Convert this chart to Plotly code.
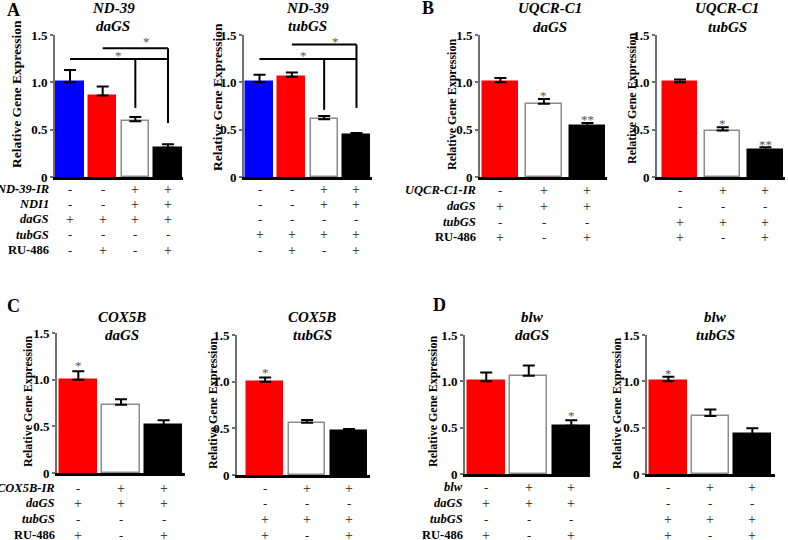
import plotly.graph_objects as go

W, H = 788, 540

# ---------------- data ----------------
A1_vals = [1.00, 0.86, 0.59, 0.31]
A1_sem = [0.13, 0.095, 0.045, 0.035]
A2_vals = [1.00, 1.06, 0.61, 0.44]
A2_sem = [0.08, 0.045, 0.035, 0.025]
B1_vals = [1.00, 0.775, 0.54]
B1_sem = [0.045, 0.05, 0.03]
B2_vals = [1.00, 0.49, 0.285]
B2_sem = [0.03, 0.035, 0.03]
C1_vals = [1.00, 0.73, 0.515]
C1_sem = [0.09, 0.06, 0.05]
C2_vals = [1.00, 0.56, 0.47]
C2_sem = [0.045, 0.03, 0.022]
D1_vals = [1.00, 1.06, 0.52]
D1_sem = [0.095, 0.11, 0.06]
D2_vals = [1.00, 0.625, 0.43]
D2_sem = [0.05, 0.07, 0.065]

y_tick_vals = [0, 0.5, 1.0, 1.5]
y_tick_text = ["0", "0.5", "1.0", "1.5"]

A_colors = ["#0000ff", "#ff0000", "#ffffff", "#000000"]
BCD_colors = ["#ff0000", "#ffffff", "#000000"]

A_rows = ["ND-39-IR", "NDI1", "daGS", "tubGS", "RU-486"]
A1_signs = [["-", "-", "+", "+"], ["-", "-", "+", "+"], ["+", "+", "+", "+"], ["-", "-", "-", "-"], ["-", "+", "-", "+"]]
A2_signs = [["-", "-", "+", "+"], ["-", "-", "+", "+"], ["-", "-", "-", "-"], ["+", "+", "+", "+"], ["-", "+", "-", "+"]]
B_rows = ["UQCR-C1-IR", "daGS", "tubGS", "RU-486"]
C_rows = ["COX5B-IR", "daGS", "tubGS", "RU-486"]
D_rows = ["blw", "daGS", "tubGS", "RU-486"]
da_signs = [["-", "+", "+"], ["+", "+", "+"], ["-", "-", "-"], ["+", "-", "+"]]
tub_signs = [["-", "+", "+"], ["-", "-", "-"], ["+", "+", "+"], ["+", "-", "+"]]

# significance marks: (bar index, y, text)
B1_stars = [(1, 0.89, "*"), (2, 0.64, "**")]
B2_stars = [(1, 0.60, "*"), (2, 0.38, "**")]
C1_stars = [(0, 1.18, "*")]
C2_stars = [(0, 1.13, "*")]
D1_stars = [(2, 0.66, "*")]
D2_stars = [(0, 1.12, "*")]
A1_stars = [(2.34, 1.46, "*"), (1.47, 1.32, "*")]
A2_stars = [(2.34, 1.46, "*"), (1.35, 1.31, "*")]
# brackets: horizontal (x0, x1, y) and vertical drops (x, ytop, ybottom)
A1_hlines = [(1, 3, 1.36), (0, 3, 1.246)]
A1_vlines = [(3, 1.36, 0.57), (2, 1.246, 0.73)]
A2_hlines = [(1, 3, 1.40), (0, 3, 1.246)]
A2_vlines = [(3, 1.40, 0.73), (2, 1.246, 0.71)]


def fx(px):
    return px / W


def fy(py):
    return 1 - py / H


FONT = "Liberation Serif"

panels = [
    dict(vals=A1_vals, sem=A1_sem, colors=A_colors, dom=(55, 183, 35, 177), xr=[-0.46, 3.46], bw=0.83,
         title=("ND-39", "daGS"), tx=113, ty=(8, 26), ylab=(17, 94, 13.5),
         signs=A1_signs, rows=A_rows, rowy=[189, 204, 219, 235, 250], labx=51,
         stars=A1_stars, hl=A1_hlines, vl=A1_vlines),
    dict(vals=A2_vals, sem=A2_sem, colors=A_colors, dom=(244, 372, 35, 177), xr=[-0.48, 3.48], bw=0.83,
         title=("ND-39", "tubGS"), tx=307, ty=(8, 26), ylab=(218, 97, 13.5),
         signs=A2_signs, rows=None, rowy=[189, 204, 219, 235, 250],
         stars=A2_stars, hl=A2_hlines, vl=A2_vlines),
    dict(vals=B1_vals, sem=B1_sem, colors=BCD_colors, dom=(480, 607, 35, 177), xr=[-0.47, 2.45], bw=0.81,
         title=("UQCR-C1", "daGS"), tx=550, ty=(8, 27), ylab=(452, 105, 12),
         signs=da_signs, rows=B_rows, rowy=[190, 206, 222, 237], labx=478,
         stars=B1_stars),
    dict(vals=B2_vals, sem=B2_sem, colors=BCD_colors, dom=(657, 785, 35, 177), xr=[-0.54, 2.46], bw=0.81,
         title=("UQCR-C1", "tubGS"), tx=727, ty=(8, 27), ylab=(632, 99, 12),
         signs=tub_signs, rows=None, rowy=[190, 206, 222, 237],
         stars=B2_stars),
    dict(vals=C1_vals, sem=C1_sem, colors=BCD_colors, dom=(57, 185, 333, 473), xr=[-0.5, 2.5], bw=0.87,
         title=("COX5B", "daGS"), tx=122, ty=(317, 335), ylab=(28, 402, 12),
         signs=da_signs, rows=C_rows, rowy=[488, 503, 519, 535], labx=57,
         stars=C1_stars),
    dict(vals=C2_vals, sem=C2_sem, colors=BCD_colors, dom=(237, 370, 335, 475), xr=[-0.67, 2.5], bw=0.87,
         title=("COX5B", "tubGS"), tx=312, ty=(317, 335), ylab=(213, 404, 12),
         signs=tub_signs, rows=None, rowy=[488, 503, 519, 535],
         stars=C2_stars),
    dict(vals=D1_vals, sem=D1_sem, colors=BCD_colors, dom=(465, 590, 335, 474), xr=[-0.5, 2.44], bw=0.87,
         title=("blw", "daGS"), tx=532, ty=(317, 335), ylab=(433, 402, 12),
         signs=da_signs, rows=D_rows, rowy=[487, 503, 519, 535], labx=465,
         stars=D1_stars),
    dict(vals=D2_vals, sem=D2_sem, colors=BCD_colors, dom=(647, 775, 335, 474), xr=[-0.51, 2.54], bw=0.88,
         title=("blw", "tubGS"), tx=715, ty=(317, 335), ylab=(617, 404, 12),
         signs=tub_signs, rows=None, rowy=[487, 503, 519, 535],
         stars=D2_stars),
]

fig = go.Figure()
annotations = []
shapes = []
layout = {}

for i, p in enumerate(panels):
    n = i + 1
    xa = "x" if n == 1 else f"x{n}"
    ya = "y" if n == 1 else f"y{n}"
    xkey = "xaxis" if n == 1 else f"xaxis{n}"
    ykey = "yaxis" if n == 1 else f"yaxis{n}"
    k = len(p["vals"])
    xs = list(range(k))
    line_cols = ["#8c8c8c" if c == "#ffffff" else c for c in p["colors"]]
    fig.add_trace(go.Bar(
        x=xs, y=p["vals"], xaxis=xa, yaxis=ya, width=p["bw"],
        marker=dict(color=p["colors"], line=dict(color=line_cols, width=1.5)),
        error_y=dict(type="data", symmetric=False, array=p["sem"], arrayminus=[0] * k,
                     color="black", thickness=2, width=6),
        showlegend=False, hoverinfo="skip",
    ))
    x0, x1, ytop, ybot = p["dom"]
    layout[xkey] = dict(domain=[fx(x0), fx(x1)], range=p["xr"], anchor=ya, automargin=False,
                        showline=True, linecolor="black", linewidth=2.5,
                        showticklabels=False, ticks="", showgrid=False, zeroline=False,
                        fixedrange=True)
    layout[ykey] = dict(domain=[fy(ybot), fy(ytop)], range=[0, 1.5], anchor=xa, automargin=False,
                        showline=True, linecolor="#707070", linewidth=2,
                        tickvals=y_tick_vals, ticktext=[f"<b>{t}</b>" for t in y_tick_text],
                        ticks="outside", ticklen=3, tickwidth=1.5, tickcolor="#707070",
                        tickfont=dict(family=FONT, size=13, color="black"),
                        showgrid=False, zeroline=False, fixedrange=True)
    # titles
    for line_text, line_y in zip(p["title"], p["ty"]):
        annotations.append(dict(x=fx(p["tx"]), y=fy(line_y), xref="paper", yref="paper",
                                text=f"<b><i>{line_text}</i></b>", showarrow=False,
                                font=dict(family=FONT, size=15, color="black"),
                                xanchor="center", yanchor="middle"))
    # y axis label
    lx, lyc, lsz = p["ylab"]
    annotations.append(dict(x=fx(lx), y=fy(lyc), xref="paper", yref="paper",
                            text="<b>Relative Gene Expression</b>", showarrow=False, textangle=-90,
                            font=dict(family=FONT, size=lsz, color="black"),
                            xanchor="center", yanchor="middle"))
    # sign rows
    for r, (row_signs, ry) in enumerate(zip(p["signs"], p["rowy"])):
        for j, s in enumerate(row_signs):
            annotations.append(dict(x=j, y=fy(ry), xref=xa, yref="paper", text=s,
                                    showarrow=False, xanchor="center", yanchor="middle",
                                    font=dict(family=FONT, size=14 if s == "+" else 13, color="#222")))
        if p["rows"]:
            name = p["rows"][r]
            txt = f"<b>{name}</b>" if name == "RU-486" else f"<b><i>{name}</i></b>"
            annotations.append(dict(x=fx(p["labx"]), y=fy(ry), xref="paper", yref="paper", text=txt,
                                    showarrow=False, xanchor="right", yanchor="middle",
                                    font=dict(family=FONT, size=12.5, color="black")))
    # stars
    for sx, sy, st in p["stars"]:
        annotations.append(dict(x=sx, y=sy, xref=xa, yref=ya, text=st, showarrow=False,
                                xanchor="center", yanchor="middle", yshift=-3,
                                font=dict(family=FONT, size=13, color="#555")))
    # brackets
    for hx0, hx1, hy in p.get("hl", []):
        shapes.append(dict(type="line", xref=xa, yref=ya, x0=hx0, x1=hx1, y0=hy, y1=hy,
                           line=dict(color="black", width=2)))
    for vx, vy0, vy1 in p.get("vl", []):
        shapes.append(dict(type="line", xref=xa, yref=ya, x0=vx, x1=vx, y0=vy0, y1=vy1,
                           line=dict(color="black", width=2)))

# panel letters
for letter, lx, ly in [("A", 13, 10), ("B", 428, 8), ("C", 13, 306), ("D", 439, 305)]:
    annotations.append(dict(x=fx(lx), y=fy(ly), xref="paper", yref="paper", text=f"<b>{letter}</b>",
                            showarrow=False, xanchor="center", yanchor="middle",
                            font=dict(family=FONT, size=18, color="black")))

fig.update_layout(
    width=W, height=H, autosize=False,
    margin=dict(l=0, r=0, t=0, b=0),
    paper_bgcolor="white", plot_bgcolor="white",
    annotations=annotations, shapes=shapes, bargap=0,
    **layout,
)

fig.write_html("out.html", config={"displayModeBar": False},
               post_script="document.body.style.margin='0px';document.body.style.overflow='hidden';")
